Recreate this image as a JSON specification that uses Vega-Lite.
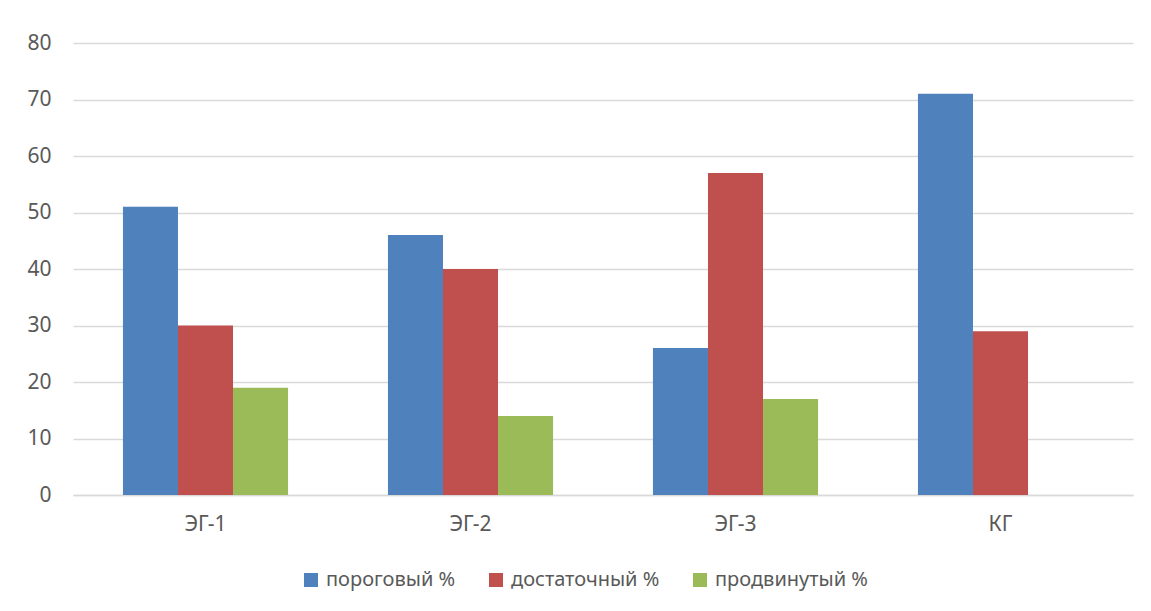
{
  "$schema": "https://vega.github.io/schema/vega-lite/v6.json",
  "width": 1060,
  "height": 452,
  "autosize": {"type": "none"},
  "padding": {"left": 73, "top": 43, "right": 18, "bottom": 116},
  "background": "white",
  "config": {
    "font": "Noto Sans",
    "view": {"stroke": null}
  },
  "data": {
    "values": [
      {"group": "ЭГ-1", "level": "пороговый %", "value": 51},
      {"group": "ЭГ-1", "level": "достаточный %", "value": 30},
      {"group": "ЭГ-1", "level": "продвинутый %", "value": 19},
      {"group": "ЭГ-2", "level": "пороговый %", "value": 46},
      {"group": "ЭГ-2", "level": "достаточный %", "value": 40},
      {"group": "ЭГ-2", "level": "продвинутый %", "value": 14},
      {"group": "ЭГ-3", "level": "пороговый %", "value": 26},
      {"group": "ЭГ-3", "level": "достаточный %", "value": 57},
      {"group": "ЭГ-3", "level": "продвинутый %", "value": 17},
      {"group": "КГ", "level": "пороговый %", "value": 71},
      {"group": "КГ", "level": "достаточный %", "value": 29},
      {"group": "КГ", "level": "продвинутый %", "value": 0}
    ]
  },
  "mark": {"type": "bar"},
  "encoding": {
    "x": {
      "field": "group", "type": "nominal", "sort": ["ЭГ-1", "ЭГ-2", "ЭГ-3", "КГ"],
      "scale": {"paddingInner": 0.377, "paddingOuter": 0.1885},
      "axis": {"title": null, "labelAngle": 0, "labelPadding": 18, "labelFontSize": 21, "labelColor": "#595959", "ticks": false, "domain": true, "domainColor": "#D9D9D9", "domainWidth": 1.5, "grid": false}
    },
    "xOffset": {"field": "level", "type": "nominal", "sort": ["пороговый %", "достаточный %", "продвинутый %"], "scale": {"paddingInner": 0, "paddingOuter": 0}},
    "y": {
      "field": "value", "type": "quantitative",
      "scale": {"domain": [0, 80]},
      "axis": {"title": null, "values": [0, 10, 20, 30, 40, 50, 60, 70, 80], "labelPadding": 22, "labelFontSize": 21, "labelColor": "#595959", "ticks": false, "domain": false, "grid": true, "gridColor": "#D9D9D9", "gridWidth": 1.3}
    },
    "color": {
      "field": "level", "type": "nominal",
      "sort": ["пороговый %", "достаточный %", "продвинутый %"],
      "scale": {"domain": ["пороговый %", "достаточный %", "продвинутый %"], "range": ["#4F81BD", "#C0504D", "#9BBB59"]},
      "legend": {"title": null, "orient": "none", "legendX": 228, "legendY": 527, "direction": "horizontal", "symbolType": "square", "symbolSize": 196, "symbolStrokeWidth": 0, "labelFontSize": 20, "labelLimit": 400, "labelColor": "#595959", "columnPadding": 30, "labelOffset": 5}
    }
  }
}
